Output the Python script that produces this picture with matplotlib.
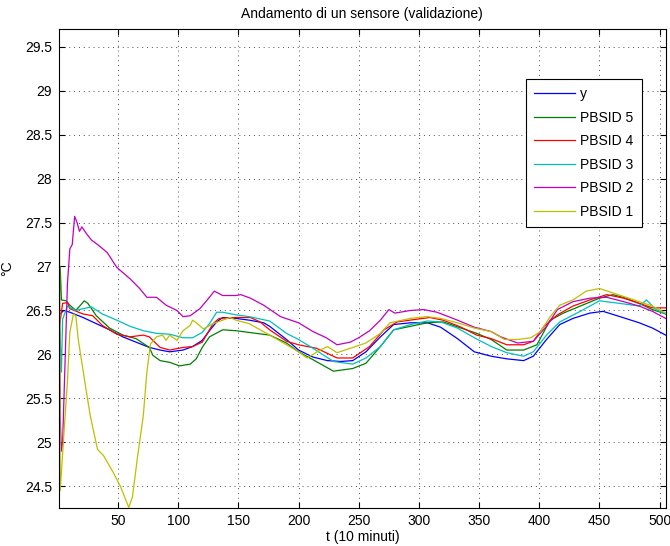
import numpy as np
import matplotlib
matplotlib.use('Agg')
import matplotlib.pyplot as plt
from matplotlib.ticker import FuncFormatter

plt.rcParams['font.family'] = ['Liberation Sans', 'DejaVu Sans']
plt.rcParams['font.size'] = 10

# misure del sensore e uscite dei modelli PBSID (validazione)
t_y = [1, 5, 10, 21, 32, 43, 54, 65, 76, 85, 93, 104, 112, 120, 126, 132, 137, 148, 159, 171,
       176, 190, 200, 212, 224, 235, 245, 256, 268, 279, 293, 307, 318, 332, 346, 360, 373, 387, 395, 406,
       417, 428, 442, 453, 467, 483, 494, 505]
v_y = [26.45, 26.5, 26.48, 26.42, 26.35, 26.28, 26.2, 26.14, 26.08, 26.05, 26.03, 26.05, 26.09, 26.16, 26.27, 26.37, 26.42, 26.41, 26.39, 26.36,
       26.32, 26.17, 26.05, 25.97, 25.93, 25.92, 25.93, 26.03, 26.2, 26.34, 26.36, 26.36, 26.31, 26.18, 26.03, 25.98, 25.95, 25.93, 25.98, 26.17,
       26.34, 26.41, 26.47, 26.49, 26.43, 26.36, 26.3, 26.22]

t_p5 = [1, 2, 3, 7, 10, 15, 22, 25, 32, 43, 54, 65, 76, 79, 85, 93, 101, 110, 115, 120,
        126, 137, 148, 159, 176, 190, 200, 212, 229, 245, 256, 268, 279, 293, 307, 320, 335, 348, 360, 373,
        387, 398, 409, 420, 434, 450, 461, 472, 483, 494, 505]
v_p5 = [26.4, 27.0, 26.62, 26.61, 26.56, 26.5, 26.61, 26.58, 26.44, 26.3, 26.22, 26.18, 26.08, 25.99, 25.93, 25.91, 25.87, 25.89, 25.95, 26.08,
        26.2, 26.28, 26.27, 26.25, 26.22, 26.13, 26.03, 25.94, 25.81, 25.84, 25.9, 26.09, 26.28, 26.32, 26.36, 26.37, 26.3, 26.24, 26.17, 26.05,
        26.05, 26.11, 26.39, 26.47, 26.55, 26.64, 26.68, 26.64, 26.58, 26.51, 26.46]

t_p4 = [1, 4, 8, 10, 21, 29, 37, 49, 60, 71, 76, 85, 93, 104, 112, 120, 129, 134, 148, 160,
        168, 176, 190, 200, 215, 232, 245, 259, 271, 282, 298, 309, 320, 335, 348, 360, 373, 387, 395, 404,
        415, 428, 442, 456, 470, 483, 494, 505]
v_p4 = [26.28, 26.58, 26.59, 26.52, 26.46, 26.44, 26.33, 26.23, 26.2, 26.22, 26.2, 26.08, 26.05, 26.08, 26.09, 26.14, 26.35, 26.41, 26.42, 26.42,
        26.37, 26.28, 26.15, 26.11, 26.07, 25.96, 25.96, 26.09, 26.28, 26.37, 26.4, 26.42, 26.39, 26.31, 26.22, 26.18, 26.11, 26.11, 26.15, 26.32,
        26.45, 26.55, 26.62, 26.68, 26.64, 26.58, 26.53, 26.53]

t_p3 = [1, 3, 4, 8, 15, 21, 28, 37, 49, 60, 71, 82, 93, 104, 112, 120, 126, 132, 137, 148,
        159, 176, 190, 200, 212, 229, 245, 256, 268, 279, 293, 307, 318, 332, 346, 360, 373, 387, 395, 406,
        417, 434, 450, 467, 483, 489, 497, 505]
v_p3 = [26.55, 25.8, 26.4, 26.55, 26.5, 26.52, 26.54, 26.46, 26.39, 26.32, 26.27, 26.24, 26.23, 26.19, 26.19, 26.25, 26.35, 26.48, 26.48, 26.45,
        26.43, 26.38, 26.24, 26.17, 26.07, 25.92, 25.89, 25.96, 26.09, 26.28, 26.34, 26.38, 26.37, 26.3, 26.19, 26.09, 26.02, 25.98, 26.03, 26.22,
        26.37, 26.49, 26.61, 26.58, 26.55, 26.62, 26.51, 26.46]

t_p2 = [1, 2, 3, 4, 6, 8, 10, 12, 14, 16, 18, 20, 24, 28, 33, 41, 49, 60, 68, 74,
        82, 90, 99, 104, 110, 118, 126, 130, 137, 148, 152, 160, 171, 185, 200, 212, 223, 232, 243, 250,
        259, 268, 275, 280, 293, 304, 315, 332, 346, 360, 368, 382, 395, 406, 415, 428, 442, 456, 470, 483,
        494, 505]
v_p2 = [27.6, 25.3, 24.9, 25.0, 25.9, 26.8, 27.2, 27.25, 27.57, 27.5, 27.4, 27.45, 27.37, 27.3, 27.25, 27.16, 26.99, 26.86, 26.75, 26.65,
        26.65, 26.56, 26.5, 26.43, 26.44, 26.52, 26.65, 26.72, 26.67, 26.67, 26.68, 26.64, 26.56, 26.43, 26.36, 26.26, 26.19, 26.11, 26.14, 26.19,
        26.27, 26.39, 26.51, 26.47, 26.5, 26.51, 26.48, 26.39, 26.31, 26.26, 26.2, 26.13, 26.15, 26.32, 26.51, 26.6, 26.64, 26.65, 26.6, 26.55,
        26.49, 26.41]

t_p1 = [1, 2, 5, 8, 10, 13, 15, 17, 23, 27, 33, 38, 46, 52, 59, 62, 66, 71, 74, 77,
        82, 87, 90, 93, 99, 104, 110, 112, 115, 121, 129, 137, 143, 148, 159, 176, 190, 200, 207, 218,
        224, 232, 243, 256, 268, 276, 293, 307, 318, 332, 346, 360, 365, 371, 382, 393, 401, 409, 417, 428,
        439, 450, 461, 472, 483, 494, 505]
v_p1 = [29.7, 24.45, 25.08, 25.69, 26.25, 26.46, 26.44, 26.17, 25.64, 25.3, 24.92, 24.85, 24.66, 24.5, 24.26, 24.38, 24.81, 25.3, 25.8, 26.12,
        26.2, 26.22, 26.16, 26.22, 26.16, 26.27, 26.33, 26.39, 26.36, 26.29, 26.35, 26.39, 26.42, 26.39, 26.35, 26.22, 26.11, 26.03, 25.96, 26.05,
        26.09, 26.02, 26.07, 26.13, 26.24, 26.36, 26.41, 26.43, 26.41, 26.36, 26.3, 26.26, 26.22, 26.17, 26.17, 26.19, 26.26, 26.43, 26.56, 26.62,
        26.72, 26.75, 26.7, 26.65, 26.6, 26.55, 26.47]

series = [
    ('y', t_y, v_y, (0, 0, 1)),
    ('PBSID 5', t_p5, v_p5, (0, 0.5, 0)),
    ('PBSID 4', t_p4, v_p4, (1, 0, 0)),
    ('PBSID 3', t_p3, v_p3, (0, 0.75, 0.75)),
    ('PBSID 2', t_p2, v_p2, (0.75, 0, 0.75)),
    ('PBSID 1', t_p1, v_p1, (0.75, 0.75, 0)),
]

fig = plt.figure(figsize=(6.70, 5.46), dpi=100)
ax = fig.add_axes([59 / 670, 1 - 507.5 / 546, 606.7 / 670, 478.5 / 546])

for name, t, v, c in series:
    ax.plot(t, v, color=c, lw=0.9, label=name)

# assi "tight" come in MATLAB
all_v = np.concatenate([np.array(s[2]) for s in series])
ax.set_xlim(1, 505)
ax.set_ylim(all_v.min(), all_v.max())

ax.set_xticks(np.arange(50, 501, 50))
ax.set_yticks(np.arange(24.5, 29.51, 0.5))
ax.yaxis.set_major_formatter(FuncFormatter(lambda v, p: '%g' % v))
ax.tick_params(direction='in', length=4, width=0.8, top=True, right=True, labelsize=10, pad=5)
for s in ax.spines.values():
    s.set_linewidth(0.8)

ax.grid(True, linestyle=(0, (1, 4)), color='0.3', linewidth=0.7)

ax.set_title('Andamento di un sensore (validazione)', fontsize=10, pad=8)
ax.set_xlabel('t (10 minuti)', fontsize=10, labelpad=1)
ax.set_ylabel('°C', fontsize=10)
ax.yaxis.set_label_coords((14 - 59) / 606.7, 0.5)

leg = ax.legend(loc='upper right', bbox_to_anchor=((642 - 59) / 606.7, (507.5 - 79) / 478.5),
                borderaxespad=0, fancybox=False, edgecolor='black', framealpha=1,
                handlelength=2.9, labelspacing=0.68, borderpad=0.6, handletextpad=0.4, fontsize=10)
leg.get_frame().set_linewidth(0.8)

fig.savefig('out.png', dpi=100)
